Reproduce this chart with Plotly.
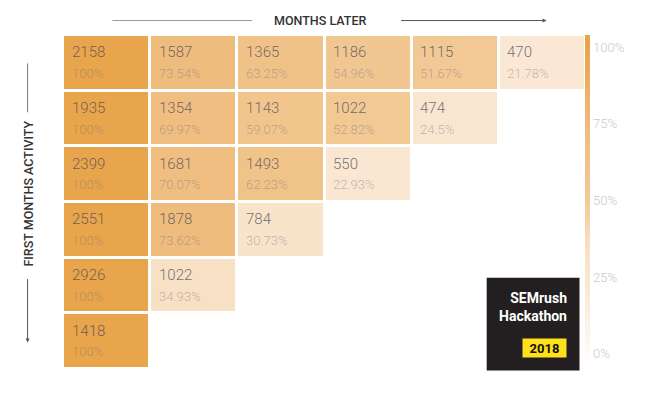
import plotly.graph_objects as go

# ---- data ----
months_later = [0, 1, 2, 3, 4, 5]
cohorts = [0, 1, 2, 3, 4, 5]
counts = [
    [2158, 1587, 1365, 1186, 1115, 470],
    [1935, 1354, 1143, 1022, 474],
    [2399, 1681, 1493, 550],
    [2551, 1878, 784],
    [2926, 1022],
    [1418],
]
percents = [
    [100, 73.54, 63.25, 54.96, 51.67, 21.78],
    [100, 69.97, 59.07, 52.82, 24.5],
    [100, 70.07, 62.23, 22.93],
    [100, 73.62, 30.73],
    [100, 34.93],
    [100],
]
cbar_ticks = [0, 25, 50, 75, 100]
cbar_labels = ["0%", "25%", "50%", "75%", "100%"]

# ---- layout geometry (pixels) ----
W, H = 650, 393
ML, MR, MT, MB = 62.5, 63.5, 34.5, 23.5
PW, PH = W - ML - MR, H - MT - MB


def px(xp):
    return (xp - ML) / PW


def py(yp):
    return (H - MB - yp) / PH


n = len(months_later)
z = [[(row[c] if c < len(row) else None) for c in range(n)] for row in percents]

ZMIN, ZMAX = -3, 104


def nz(v):
    return (v - ZMIN) / (ZMAX - ZMIN)


colorscale = [
    [0.0, "#fffdfa"],
    [nz(0), "#fefaf4"],
    [nz(20), "#fae9d6"],
    [nz(35), "#f8e0c4"],
    [nz(50), "#f2ca96"],
    [nz(75), "#eebb7b"],
    [nz(100), "#e8a54b"],
    [1.0, "#e8a54b"],
]

fig = go.Figure(
    go.Heatmap(
        z=z,
        x=months_later,
        y=cohorts,
        zmin=ZMIN,
        zmax=ZMAX,
        colorscale=colorscale,
        xgap=3,
        ygap=3,
        hoverinfo="skip",
        colorbar=dict(
            thickness=5,
            thicknessmode="pixels",
            len=328,
            lenmode="pixels",
            x=px(585.5),
            xanchor="left",
            y=py(199),
            yanchor="middle",
            xpad=0,
            ypad=0,
            outlinewidth=0,
            tickmode="array",
            tickvals=cbar_ticks,
            ticktext=cbar_labels,
            ticks="",
            tickfont=dict(family="Roboto", size=13, color="#c8c8d4", weight=300),
        ),
    )
)

num_font = dict(family="Roboto", size=15, color="rgba(70,70,90,0.75)", weight=300)
pct_font = dict(family="Roboto", size=13, color="rgba(110,110,130,0.45)", weight=300)

for r, row in enumerate(counts):
    for c, v in enumerate(row):
        fig.add_annotation(
            x=c - 0.5 + 0.075, y=r - 0.5 + 0.31, xref="x", yref="y",
            text=str(v), showarrow=False, xanchor="left", yanchor="middle",
            font=num_font,
        )
        fig.add_annotation(
            x=c - 0.5 + 0.075, y=r - 0.5 + 0.69, xref="x", yref="y",
            text=f"{percents[r][c]:g}%", showarrow=False, xanchor="left",
            yanchor="middle", font=pct_font,
        )

title_font = dict(family="Roboto", size=12.5, color="#333333", weight=500)

# top title and arrows
fig.add_annotation(
    x=px(319.5), y=py(20), xref="paper", yref="paper", text="MONTHS LATER",
    showarrow=False, font=title_font, xanchor="center", yanchor="middle",
)
fig.add_shape(
    type="line", xref="paper", yref="paper",
    x0=px(112), x1=px(252), y0=py(20), y1=py(20),
    line=dict(color="#999999", width=1),
)
fig.add_annotation(
    x=px(547), y=py(20), xref="paper", yref="paper", text="",
    showarrow=True, ax=-147, ay=0, arrowhead=2, arrowsize=0.8,
    arrowwidth=1, arrowcolor="#555555",
)

# left title and arrows
fig.add_annotation(
    x=px(27), y=py(194), xref="paper", yref="paper", text="FIRST MONTHS ACTIVITY",
    showarrow=False, font=title_font, textangle=-90,
    xanchor="center", yanchor="middle",
)
fig.add_shape(
    type="line", xref="paper", yref="paper",
    x0=px(27), x1=px(27), y0=py(63), y1=py(112),
    line=dict(color="#777777", width=1),
)
fig.add_annotation(
    x=px(27), y=py(343), xref="paper", yref="paper", text="",
    showarrow=True, ax=0, ay=-65, arrowhead=2, arrowsize=0.8,
    arrowwidth=1, arrowcolor="#555555",
)

# logo
fig.add_shape(
    type="rect", xref="paper", yref="paper",
    x0=px(487), x1=px(580), y0=py(278), y1=py(371),
    fillcolor="#231f20", line=dict(width=0), layer="above",
)
fig.add_annotation(
    x=px(569), y=py(307.5), xref="paper", yref="paper",
    text="SEMrush<br>Hackathon", align="right",
    showarrow=False, xanchor="right", yanchor="middle",
    font=dict(family="Roboto", size=14, color="#ffffff", weight=700),
)
fig.add_annotation(
    x=px(544.5), y=py(348), xref="paper", yref="paper", text="2018",
    showarrow=False, xanchor="center", yanchor="middle",
    width=41, height=16, bgcolor="#ffe01b", borderpad=1,
    font=dict(family="Roboto", size=13, color="#111111", weight=700),
)

fig.update_xaxes(visible=False, range=[-0.5, n - 0.5], fixedrange=True)
fig.update_yaxes(visible=False, range=[n - 0.5, -0.5], fixedrange=True)
fig.update_layout(
    width=W, height=H,
    margin=dict(l=ML, r=MR, t=MT, b=MB, pad=0),
    plot_bgcolor="white", paper_bgcolor="white",
    showlegend=False,
)

fig.write_html(
    "out.html",
    config={"displayModeBar": False},
    post_script="document.body.style.margin='0';document.body.style.padding='0';",
)
